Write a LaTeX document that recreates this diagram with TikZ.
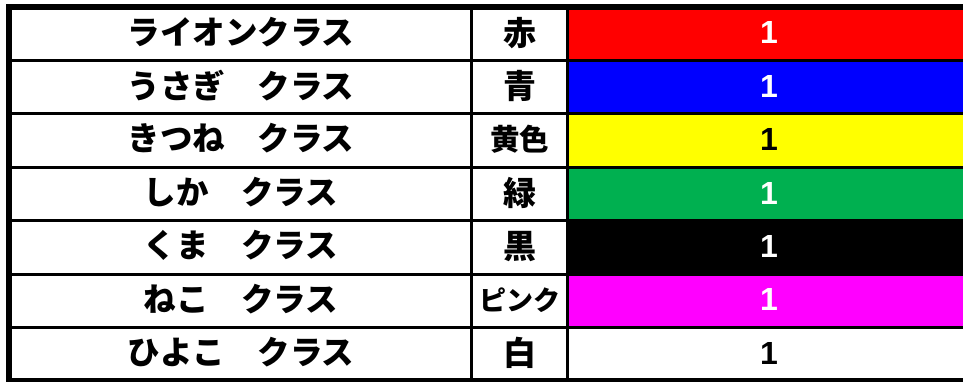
\documentclass[tikz,border=0pt]{standalone}
\usepackage{fontspec}
\newfontfamily\jpfont{Noto Sans CJK JP}
\setmainfont{Liberation Sans}
\definecolor{cred}{RGB}{255,0,0}
\definecolor{cblue}{RGB}{0,0,255}
\definecolor{cyel}{RGB}{255,255,0}
\definecolor{cgreen}{RGB}{0,176,80}
\definecolor{cblack}{RGB}{0,0,0}
\definecolor{cmag}{RGB}{255,0,255}
\definecolor{cwhite}{RGB}{255,255,255}
\begin{document}
\begin{tikzpicture}[x=1pt,y=-1pt,
  namecell/.style={font=\jpfont\bfseries\fontsize{32.5}{32.5}\selectfont, inner sep=0pt, anchor=center},
  colcell/.style={font=\jpfont\bfseries\fontsize{\csz}{\csz}\selectfont, inner sep=0pt, anchor=center},
  numcell/.style={font=\bfseries\fontsize{32}{32}\selectfont, inner sep=0pt, anchor=center},
  thinrule/.style={line width=3pt, black},
  thickrule/.style={line width=6pt, black}]
\useasboundingbox (0,0) rectangle (963,381);
\fill[white] (0,0) rectangle (963,381);
\def\pitch{53.43}
% colored cells
\foreach \c [count=\i from 0] in {cred,cblue,cyel,cgreen,cblack,cmag,cwhite}{
  \fill[\c] (567.5,{7+\i*\pitch}) rectangle (975,{7+(\i+1)*\pitch});
}
% texts
\foreach \nm/\cl/\csz/\tc [count=\i from 0] in {
  ライオンクラス/赤/33/white,
  うさぎ　クラス/青/33/white,
  きつね　クラス/黄色/29.5/black,
  しか　クラス/緑/33/white,
  くま　クラス/黒/33/white,
  ねこ　クラス/ピンク/27/white,
  ひよこ　クラス/白/33/black}{
  \node[namecell] (n\i) at (241,{7+(\i+0.5)*\pitch-2}) {\nm};
  \node[colcell] (c\i) at (519.5,{7+(\i+0.5)*\pitch-1}) {\cl};
  \node[numcell, text=\tc] (v\i) at (769,{7+(\i+0.5)*\pitch-1}) {1};
}
% rules
\foreach \i in {1,...,6}{
  \draw[thinrule] (9,{7+\i*\pitch}) -- (975,{7+\i*\pitch});
}
\draw[thinrule] (471.5,7) -- (471.5,381);
\draw[thinrule] (567.5,7) -- (567.5,381);
\draw[thickrule] (9,7) rectangle (975,381);
\end{tikzpicture}
\end{document}
